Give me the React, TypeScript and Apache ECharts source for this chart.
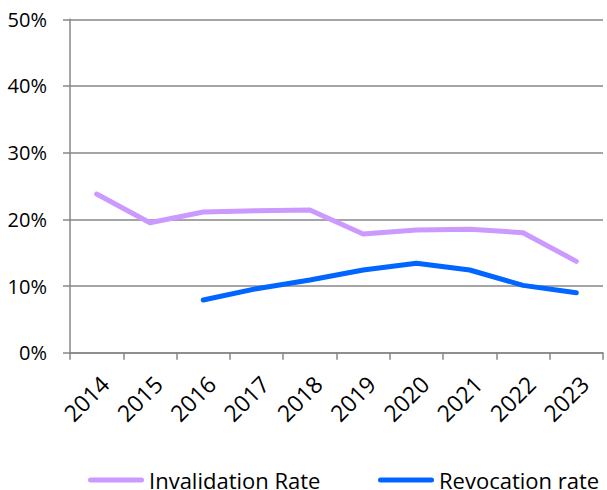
import React, { useEffect, useRef } from "react";
import * as echarts from "echarts";

const years = ["2014", "2015", "2016", "2017", "2018", "2019", "2020", "2021", "2022", "2023"];
const invalidationRate = [23.8, 19.5, 21.1, 21.3, 21.4, 17.8, 18.4, 18.5, 18.0, 13.7];
const revocationRate = [null, null, 7.9, 9.6, 10.9, 12.4, 13.4, 12.4, 10.1, 9.0];
const seriesNames = ["Invalidation Rate", "Revocation rate"];
const seriesColors = ["#CC99FF", "#0066FF"];

const FONT = "Open Sans";

export default function App() {
  const ref = useRef<HTMLDivElement>(null);
  useEffect(() => {
    if (!ref.current) return;
    const chart = echarts.init(ref.current, null, { renderer: "svg" });
    const axisGrey = "#878787";
    const legendX = [88, 378];
    const legendY = 480;
    const legendGraphics = seriesNames.flatMap((name, i) => [
      {
        type: "line",
        shape: { x1: legendX[i] + 2.5, y1: legendY, x2: legendX[i] + 53.5, y2: legendY },
        style: { stroke: seriesColors[i], lineWidth: 5, lineCap: "round" },
        silent: true,
      },
      {
        type: "text",
        x: legendX[i] + 61,
        y: legendY,
        style: {
          text: name,
          fontFamily: FONT,
          fontSize: 22,
          fill: "#000",
          verticalAlign: "middle",
          align: "left",
        },
        silent: true,
      },
    ]);
    chart.setOption({
      animation: false,
      backgroundColor: "#ffffff",
      grid: { left: 70, right: 4, top: 19.3, bottom: 137.3, containLabel: false },
      graphic: legendGraphics,
      xAxis: {
        type: "category",
        data: years,
        boundaryGap: true,
        axisLine: { lineStyle: { color: axisGrey, width: 1.5 } },
        axisTick: { show: true, length: 7, alignWithLabel: false, lineStyle: { color: axisGrey, width: 1.5 } },
        axisLabel: {
          interval: 0,
          rotate: 45,
          margin: 19,
          verticalAlign: "top",
          fontFamily: FONT,
          fontSize: 23,
          color: "#000",
        },
        splitLine: { show: false },
      },
      yAxis: {
        type: "value",
        min: 0,
        max: 50,
        interval: 10,
        axisLine: { show: true, lineStyle: { color: axisGrey, width: 1.5 } },
        axisTick: { show: true, length: 7, lineStyle: { color: axisGrey, width: 1.5 } },
        axisLabel: {
          formatter: "{value}%",
          margin: 23,
          fontFamily: FONT,
          fontSize: 20,
          color: "#000",
        },
        splitLine: { show: true, lineStyle: { color: axisGrey, width: 1.5 } },
      },
      series: [
        {
          name: seriesNames[0],
          type: "line",
          data: invalidationRate,
          symbol: "none",
          color: seriesColors[0],
          lineStyle: { width: 5, color: seriesColors[0], cap: "round", join: "round" },
        },
        {
          name: seriesNames[1],
          type: "line",
          data: revocationRate,
          symbol: "none",
          color: seriesColors[1],
          lineStyle: { width: 5, color: seriesColors[1], cap: "round", join: "round" },
        },
      ],
    });
    return () => chart.dispose();
  }, []);
  return (
    <div
      ref={ref}
      style={{ position: "fixed", left: 0, top: 0, width: 607, height: 490, background: "#fff" }}
    />
  );
}
